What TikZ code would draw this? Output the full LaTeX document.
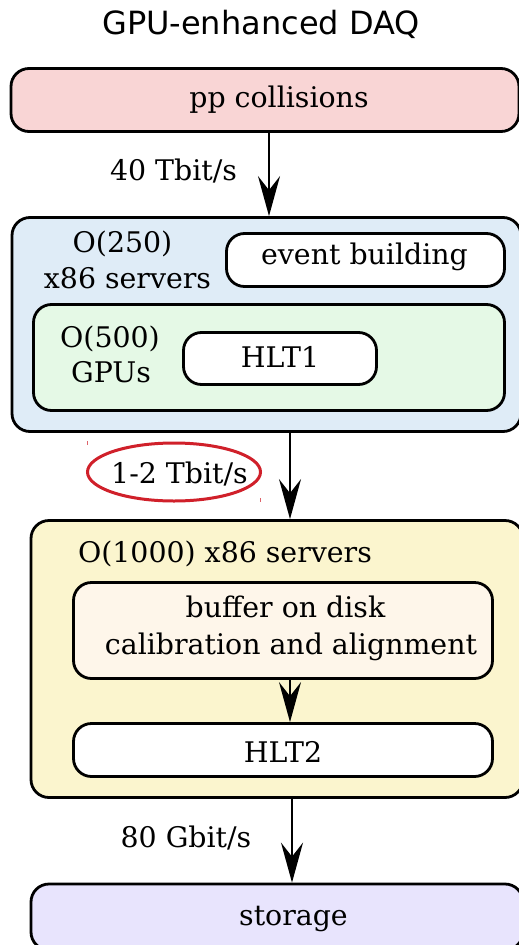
\documentclass[tikz,border=0pt]{standalone}
\usepackage{fontspec}
\setmainfont{DejaVu Serif}
\newfontfamily\titlefont{DejaVu Sans}
\usetikzlibrary{arrows.meta,shapes.geometric}

\definecolor{ppfill}{HTML}{F9D5D5}
\definecolor{srvfill}{HTML}{DFECF7}
\definecolor{gpufill}{HTML}{E5F9E6}
\definecolor{hltfill}{HTML}{FBF5CE}
\definecolor{buffill}{HTML}{FEF6EA}
\definecolor{stofill}{HTML}{E8E4FD}
\definecolor{mark}{HTML}{D0202A}

\newcommand{\bodyfont}{\fontsize{28.4}{35.5}\selectfont}

\tikzset{
  box/.style={draw, line width=2.8pt, rounded corners=18pt, inner sep=0pt},
  lbl/.style={font=\bodyfont, anchor=base, inner sep=0pt},
  flow/.style={line width=2pt, -{Stealth[length=40pt,width=22pt,inset=14pt]}},
}

\begin{document}
\begin{tikzpicture}[x=1pt,y=-1pt]
\useasboundingbox (0,0) rectangle (519,945);
\clip (0,0) rectangle (519,945);

% title
\node[font=\titlefont\fontsize{32}{36}\selectfont, inner sep=0pt, anchor=base] (title) at (261,34) {GPU-enhanced DAQ};

% boxes
\node[box, fill=ppfill, minimum width=508pt, minimum height=63pt] (pp) at (265,100) {};
\node[box, fill=srvfill, minimum width=509pt, minimum height=214pt] (srv) at (266.5,324.5) {};
\node[box, fill=white, minimum width=278pt, minimum height=53pt] (evb) at (365.5,260) {};
\node[box, fill=gpufill, minimum width=471pt, minimum height=106pt] (gpu) at (269,357.5) {};
\node[box, fill=white, minimum width=193pt, minimum height=52pt] (hlt1) at (280,358.5) {};
\node[box, fill=hltfill, minimum width=492pt, minimum height=277pt] (farm) at (277,659) {};
\node[box, fill=buffill, minimum width=419pt, minimum height=96pt] (buf) at (283,630.5) {};
\node[box, fill=white, minimum width=419pt, minimum height=53pt] (hlt2) at (283,750) {};
\node[box, fill=stofill, minimum width=492pt, minimum height=66pt] (sto) at (277,917) {};

% texts
\node[lbl] (tpp) at (279,107) {pp collisions};
\node[lbl] (tsrva) at (122.5,252) {O(250)};
\node[lbl] (tsrvb) at (127.5,288) {x86 servers};
\node[lbl] (tevb) at (364.5,264) {event building};
\node[lbl] (tgpua) at (110,347) {O(500)};
\node[lbl] (tgpub) at (111,382) {GPUs};
\node[lbl] (thlt1) at (280,367) {HLT1};
\node[lbl] (tfarm) at (225,562) {O(1000) x86 servers};
\node[lbl] (tbufa) at (285.5,617) {buffer on disk};
\node[lbl] (tbufb) at (291,654) {calibration and alignment};
\node[lbl] (thlt2) at (283,762) {HLT2};
\node[lbl] (tsto) at (293.5,925) {storage};

% bandwidth labels
\node[lbl] (r1) at (173.5,180) {40 Tbit/s};
\node[draw=mark, line width=3pt, ellipse, minimum width=173pt, minimum height=58pt] (ring) at (174,472) {};
\node[lbl] (r2) at (179.5,483) {1-2 Tbit/s};
\node[lbl] (r3) at (186,847) {80 Gbit/s};
\draw[mark!70, line width=1pt] (87,441) -- (87,445) (260,498) -- (260,502);

% data flow
\coordinate (x1) at (269,0);
\coordinate (x2) at (290,0);
\coordinate (x3) at (292,0);
\draw[flow] (pp.south -| x1) -- (srv.north -| x1);
\draw[flow] (srv.south -| x2) -- (farm.north -| x2);
\draw[flow] (buf.south -| x2) -- (hlt2.north -| x2);
\draw[flow] (farm.south -| x3) -- (sto.north -| x3);
\end{tikzpicture}
\end{document}
